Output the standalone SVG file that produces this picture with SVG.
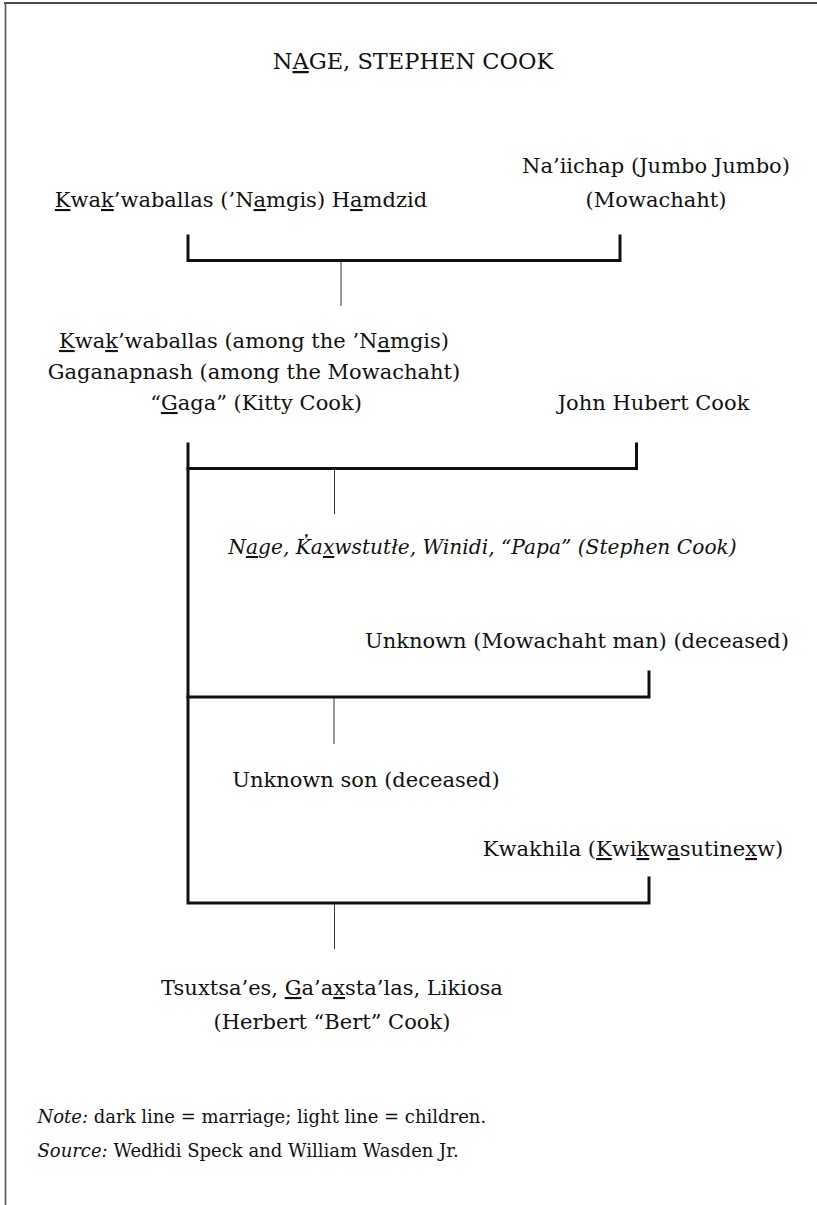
<svg xmlns="http://www.w3.org/2000/svg" width="817" height="1205" viewBox="0 0 817 1205">
<style>
text{font-family:"DejaVu Serif","Liberation Serif",serif;fill:#111;font-size:21px}
.t{font-size:22.5px}
.c{text-anchor:middle}
.i{font-style:italic}
.p{font-size:20.2px}
.n{font-size:18px}
.u{text-decoration:underline}
.m{stroke:#111;stroke-width:3;fill:none;stroke-linecap:square}
.k{stroke:#333;stroke-width:1;fill:none}
</style>
<rect width="817" height="1205" fill="#fff"/>
<g id="frame">
<line x1="4" y1="3" x2="817" y2="3" stroke="#111" stroke-width="1.6"/>
<line x1="5.5" y1="2" x2="5.5" y2="1205" stroke="#555" stroke-width="1.6"/>
</g>
<g id="title"><text class="t c" x="413" y="69">N<tspan class="u">A</tspan>GE, STEPHEN COOK</text></g>
<g id="connectors">
<polyline class="m" points="188,236 188,260.5 620,260.5 620,236"/>
<line class="k" x1="341" y1="262" x2="341" y2="306"/>
<polyline class="m" points="188,444 188,903 649,903 649,878"/>
<polyline class="m" points="188,468.5 636.5,468.5 636.5,444"/>
<line class="k" x1="334.5" y1="470" x2="334.5" y2="514"/>
<polyline class="m" points="188,697 649,697 649,672"/>
<line class="k" x1="334" y1="698" x2="334" y2="744"/>
<line class="k" x1="334.5" y1="904" x2="334.5" y2="949"/>
</g>
<g id="kwakwaballas-hamdzid"><text x="241" y="207" class="c"><tspan class="u">K</tspan>wa<tspan class="u">k</tspan>’waballas (’N<tspan class="u">a</tspan>mgis) H<tspan class="u">a</tspan>mdzid</text></g>
<g id="naiichap"><text class="c" x="656" y="173">Na’iichap (Jumbo Jumbo)</text><text class="c" x="656" y="207">(Mowachaht)</text></g>
<g id="kitty-cook">
<text class="c" x="254" y="348"><tspan class="u">K</tspan>wa<tspan class="u">k</tspan>’waballas (among the ’N<tspan class="u">a</tspan>mgis)</text>
<text class="c" x="254" y="379">Gaganapnash (among the Mowachaht)</text>
<text class="c" x="256" y="410">“<tspan class="u">G</tspan>aga” (Kitty Cook)</text>
</g>
<g id="john-hubert-cook"><text class="c" x="653.5" y="410">John Hubert Cook</text></g>
<g id="stephen-cook"><text class="c i p" x="482.5" y="554">N<tspan class="u">a</tspan>ge, K̓a<tspan class="u">x</tspan>wstutłe, Winidi, “Papa” (Stephen Cook)</text></g>
<g id="unknown-man"><text class="c" x="577" y="648">Unknown (Mowachaht man) (deceased)</text></g>
<g id="unknown-son"><text class="c" x="366" y="787">Unknown son (deceased)</text></g>
<g id="kwakhila"><text class="c" x="633" y="856">Kwakhila (<tspan class="u">K</tspan>wi<tspan class="u">k</tspan>w<tspan class="u">a</tspan>sutine<tspan class="u">x</tspan>w)</text></g>
<g id="bert-cook">
<text class="c" x="332" y="995">Tsuxtsa’es, <tspan class="u">G</tspan>a’a<tspan class="u">x</tspan>sta’las, Likiosa</text>
<text class="c" x="332" y="1029">(Herbert “Bert” Cook)</text>
</g>
<g id="notes">
<text class="n" x="37.5" y="1123"><tspan class="i">Note:</tspan> dark line = marriage; light line = children.</text>
<text class="n" x="37.5" y="1157"><tspan class="i">Source:</tspan> Wedłidi Speck and William Wasden Jr.</text>
</g>
</svg>
